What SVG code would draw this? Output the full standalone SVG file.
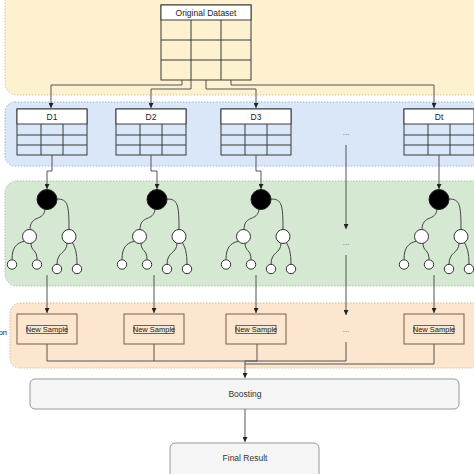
<svg xmlns="http://www.w3.org/2000/svg" width="474" height="474" viewBox="0 0 474 474">
<defs>
<style>
.band{stroke-width:1;stroke-dasharray:1.5 1.5}
.tbl{fill:none;stroke:#3a3a3a;stroke-width:1}
.hdr{fill:#ffffff;stroke:#3a3a3a;stroke-width:1}
.t{font-family:"Liberation Sans",Arial,sans-serif;fill:#222;text-anchor:middle;dominant-baseline:central}
.conn{fill:none;stroke:#555;stroke-width:1}
.edge{fill:none;stroke:#444;stroke-width:1}
.wn{fill:#fff;stroke:#333;stroke-width:1}
.ns{fill:none;stroke:#7a5c45;stroke-width:1}
.gb{fill:#f5f5f5;stroke:#999;stroke-width:1}
</style>
<marker id="arr" viewBox="0 0 6 6" refX="6" refY="3" markerWidth="5" markerHeight="5" orient="auto" markerUnits="userSpaceOnUse">
<path d="M0,0 L6,3 L0,6 Z" fill="#222"/>
</marker>
<g id="tree">
<path class="edge" d="M45,209 C44,222 30,214 30,230"/>
<path class="edge" d="M57,199 C68,199 69,205 69,230"/>
<path class="edge" d="M25,241 C16,243 12,248 12,259.5"/>
<path class="edge" d="M31,243 C31,252 37,249 37,259.5"/>
<path class="edge" d="M67,243 C67,254 57,251 57,264.5"/>
<path class="edge" d="M72,242 C75,247 77,252 77,264.5"/>
<circle cx="47" cy="199.5" r="10" fill="#000" stroke="#222"/>
<circle class="wn" cx="29.5" cy="236.5" r="7"/>
<circle class="wn" cx="69" cy="236.5" r="7"/>
<circle class="wn" cx="12" cy="264.5" r="4.7"/>
<circle class="wn" cx="37" cy="264.5" r="4.7"/>
<circle class="wn" cx="57" cy="269" r="4.7"/>
<circle class="wn" cx="77" cy="269" r="4.7"/>
</g>
<g id="dtable">
<rect class="tbl" x="0" y="0" width="70" height="46"/>
<rect class="hdr" x="0" y="0" width="70" height="15"/>
<path class="tbl" d="M0,26 H70 M0,36 H70 M24,15 V46 M46,15 V46"/>
</g>
<g id="nsample">
<rect class="ns" x="0" y="0" width="60" height="30"/>
<rect fill="none" stroke="#444" stroke-width="0.8" x="10" y="11.5" width="40" height="8"/>
<text class="t" x="30" y="15.5" font-size="7.5">New Sample</text>
</g>
</defs>

<g id="bands">
<rect class="band" x="5" y="-8" width="490" height="103" rx="12" fill="#fdf1cf" stroke="#d8c48a"/>
<rect class="band" x="5" y="102" width="490" height="64" rx="10" fill="#d9e7f8" stroke="#9fb5d4"/>
<rect class="band" x="5" y="181" width="490" height="105" rx="12" fill="#d5e8d2" stroke="#a9c4a5"/>
<rect class="band" x="10" y="303" width="490" height="65" rx="10" fill="#fde6cf" stroke="#d9b894"/>
</g>

<g id="side-labels">
<text class="t" x="7" y="332" font-size="7.5" text-anchor="end" style="text-anchor:end">on</text>
</g>

<g id="original-dataset">
<rect class="tbl" x="161" y="5" width="90" height="75"/>
<rect class="hdr" x="161" y="5" width="90" height="15"/>
<path class="tbl" d="M161,40 H251 M161,60 H251 M191,20 V80 M221,20 V80"/>
<text class="t" x="206" y="13" font-size="8.5">Original Dataset</text>
</g>

<g id="D1"><use href="#dtable" x="17" y="109"/><text class="t" x="52" y="117" font-size="8.5">D1</text></g>
<g id="D2"><use href="#dtable" x="116" y="109"/><text class="t" x="151" y="117" font-size="8.5">D2</text></g>
<g id="D3"><use href="#dtable" x="221" y="109"/><text class="t" x="256" y="117" font-size="8.5">D3</text></g>
<g id="Dt"><use href="#dtable" x="404" y="109"/><text class="t" x="439" y="117" font-size="8.5">Dt</text></g>

<g id="tree1"><use href="#tree"/></g>
<g id="tree2"><use href="#tree" x="110"/></g>
<g id="tree3"><use href="#tree" x="214"/></g>
<g id="treet"><use href="#tree" x="392"/></g>

<g id="ns1"><use href="#nsample" x="17" y="314"/></g>
<g id="ns2"><use href="#nsample" x="124" y="314"/></g>
<g id="ns3"><use href="#nsample" x="226" y="314"/></g>
<g id="nst"><use href="#nsample" x="404" y="314"/></g>

<g id="ellipsis" font-size="8" fill="#555">
<text class="t" x="346" y="132" style="fill:#555">...</text>
<text class="t" x="346" y="242" style="fill:#555">...</text>
<text class="t" x="346" y="329" style="fill:#555">...</text>
</g>

<g id="boosting">
<rect class="gb" x="30" y="379" width="429" height="30" rx="5"/>
<text class="t" x="245" y="394" font-size="8.5" style="fill:#333">Boosting</text>
</g>
<g id="final-result">
<rect class="gb" x="170" y="443" width="149" height="40" rx="5"/>
<text class="t" x="245" y="458" font-size="8.5" style="fill:#333">Final Result</text>
</g>

<g id="connectors">
<path class="conn" d="M182,80 V85 H51 V108" marker-end="url(#arr)"/>
<path class="conn" d="M191,80 V89 H151 V108" marker-end="url(#arr)"/>
<path class="conn" d="M206,80 V89 H256 V108" marker-end="url(#arr)"/>
<path class="conn" d="M231,80 V85 H434 V108" marker-end="url(#arr)"/>
<path class="conn" d="M52,155 V171 H47 V189" marker-end="url(#arr)"/>
<path class="conn" d="M151,155 V171 H157 V189" marker-end="url(#arr)"/>
<path class="conn" d="M256,155 V171 H261 V189" marker-end="url(#arr)"/>
<path class="conn" d="M439,155 V189" marker-end="url(#arr)"/>
<path class="conn" d="M346,145 V229" marker-end="url(#arr)"/>
<path class="conn" d="M346,255 V315" marker-end="url(#arr)"/>
<path class="conn" d="M47,275 V313" marker-end="url(#arr)"/>
<path class="conn" d="M154,275 V313" marker-end="url(#arr)"/>
<path class="conn" d="M256,275 V313" marker-end="url(#arr)"/>
<path class="conn" d="M434,275 V313" marker-end="url(#arr)"/>
<path class="conn" d="M47,344 V361 H245"/>
<path class="conn" d="M154,344 V361"/>
<path class="conn" d="M346,342 V361 H245"/>
<path class="conn" d="M257,344 V361 H245 V378" marker-end="url(#arr)"/>
<path class="conn" d="M434,344 V364 H245"/>
<path class="conn" d="M245,409 V442" marker-end="url(#arr)"/>
</g>
</svg>
